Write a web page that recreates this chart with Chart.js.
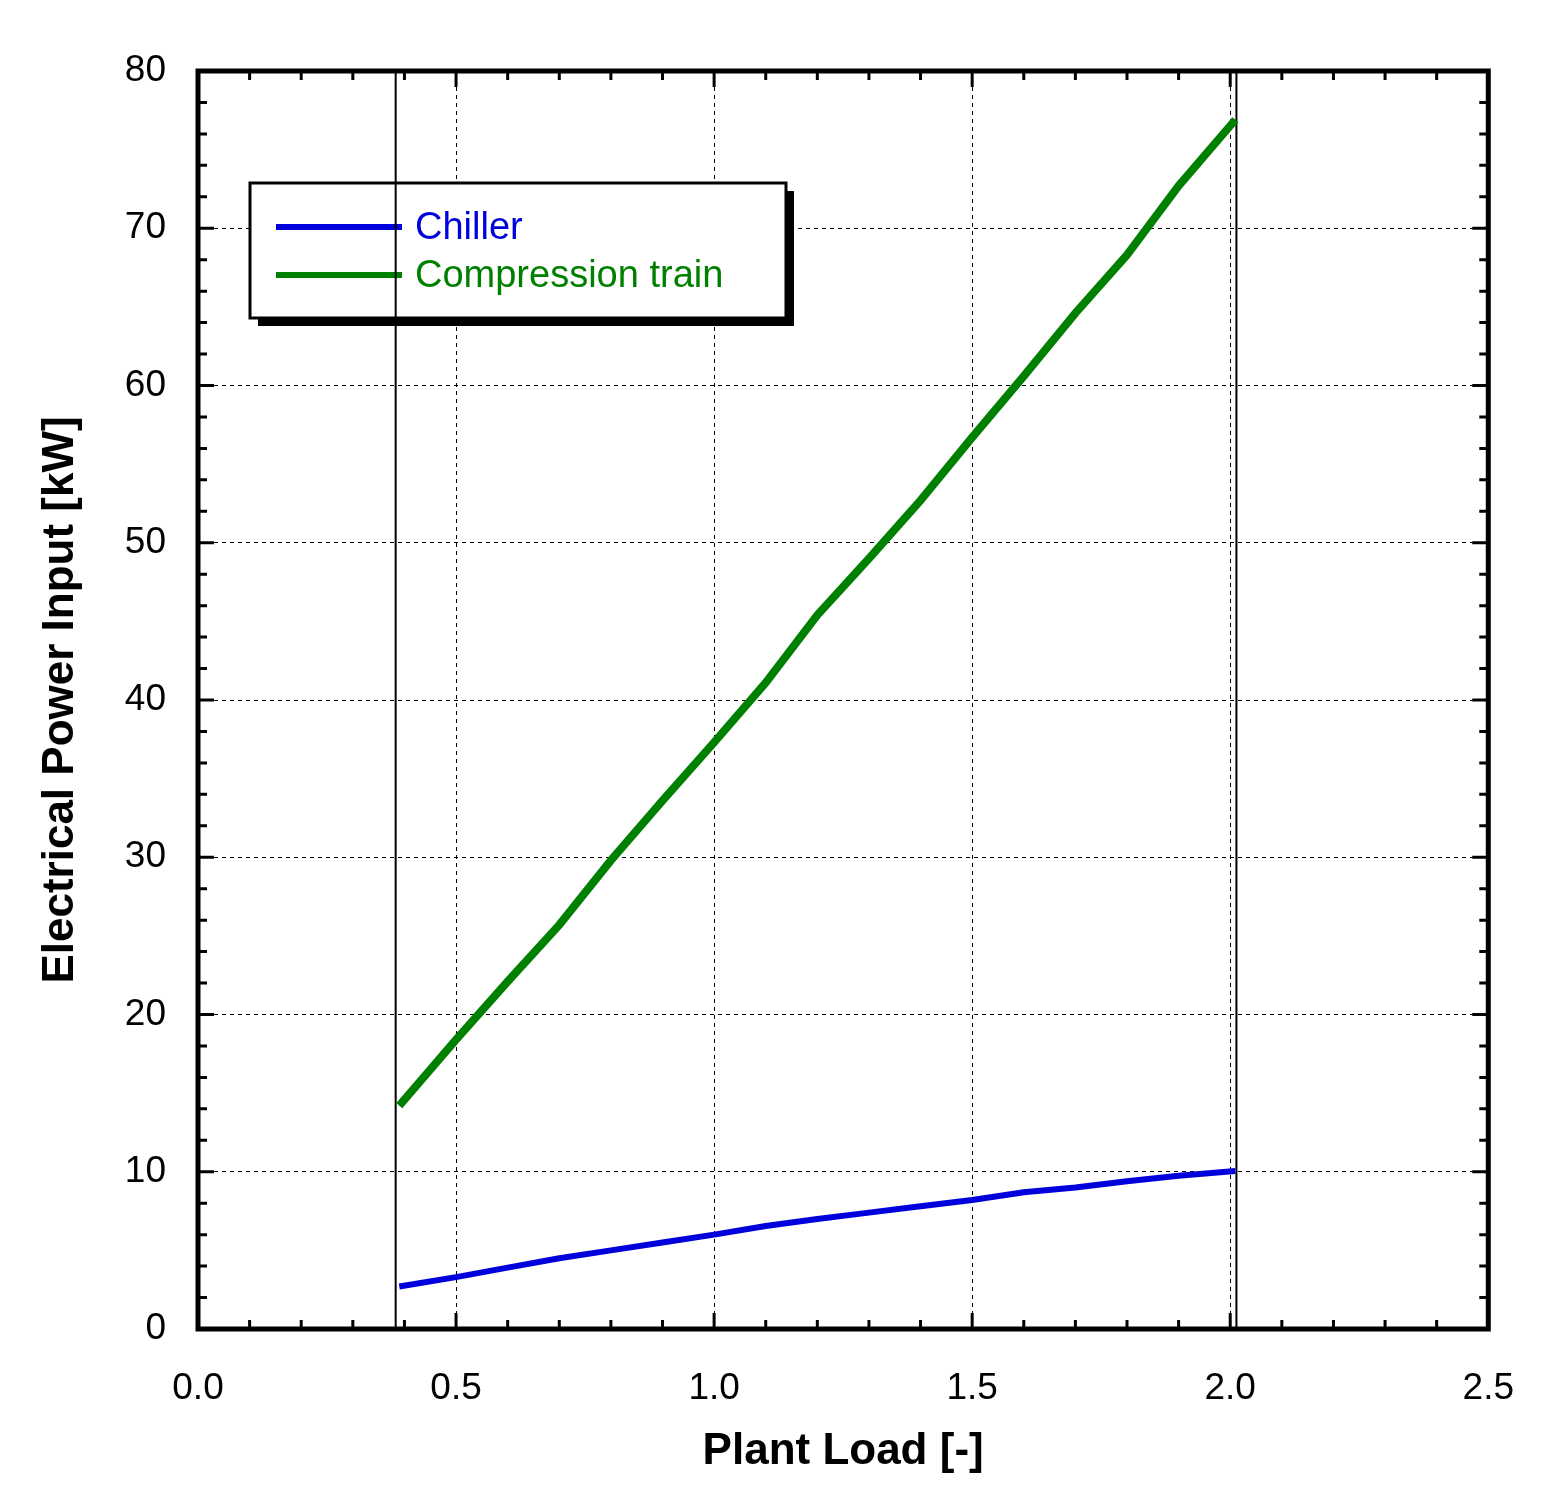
<!DOCTYPE html>
<html><head><meta charset="utf-8">
<script src="https://cdn.jsdelivr.net/npm/chart.js@4/dist/chart.umd.min.js"></script>
<style>html,body{margin:0;padding:0;background:#fff}#w{width:1552px;height:1512px}</style>
</head><body><div id="w"><canvas id="c"></canvas></div>
<script>
const chillerX = [0.39,0.5,0.6,0.7,0.8,0.9,1.0,1.1,1.2,1.3,1.4,1.5,1.6,1.7,1.8,1.9,2.01];
const chillerY = [2.7,3.3,3.9,4.5,5.0,5.5,6.0,6.55,7.0,7.4,7.8,8.2,8.7,9.0,9.4,9.75,10.05];
const compX = [0.39,0.5,0.6,0.7,0.8,0.9,1.0,1.1,1.2,1.3,1.4,1.5,1.6,1.7,1.8,1.9,2.01];
const compY = [14.2,18.4,22.1,25.7,29.8,33.6,37.3,41.1,45.4,49.0,52.7,56.7,60.6,64.6,68.3,72.7,76.9];
const limitLines = [0.383, 2.012];
const seriesNames = ['Chiller','Compression train'];
const seriesColors = ['#0000dd','#008000'];
const FONT = 'Liberation Sans, Arial, sans-serif';

function pts(xs, ys){ return xs.map((x,i)=>({x:x,y:ys[i]})); }

const deco = {
  id:'deco',
  beforeDatasetsDraw(ch){
    const {ctx, chartArea:a, scales:{x}} = ch;
    ctx.save();
    ctx.strokeStyle='#000'; ctx.lineWidth=2;
    limitLines.forEach(v=>{const px=x.getPixelForValue(v);ctx.beginPath();ctx.moveTo(px,a.top);ctx.lineTo(px,a.bottom);ctx.stroke();});
    ctx.restore();
  },
  afterDatasetsDraw(ch){
    const {ctx, chartArea:a, scales:{x,y}} = ch;
    ctx.save();
    ctx.strokeStyle='#000'; ctx.lineWidth=3;
    for(let i=0;i<=25;i++){const v=i/10;const px=x.getPixelForValue(v);const L=(i%5===0)?16:9;
      ctx.beginPath();ctx.moveTo(px,a.bottom);ctx.lineTo(px,a.bottom-L);ctx.moveTo(px,a.top);ctx.lineTo(px,a.top+L);ctx.stroke();}
    for(let v=0;v<=80;v+=2){const py=y.getPixelForValue(v);const L=(v%10===0)?16:9;
      ctx.beginPath();ctx.moveTo(a.left,py);ctx.lineTo(a.left+L,py);ctx.moveTo(a.right,py);ctx.lineTo(a.right-L,py);ctx.stroke();}
    ctx.lineWidth=5; ctx.strokeRect(a.left,a.top,a.right-a.left,a.bottom-a.top);
    const lx=250,ly=183,lw=536,lh=135;
    ctx.fillStyle='#000'; ctx.fillRect(lx+8,ly+8,lw,lh);
    ctx.fillStyle='#fff'; ctx.fillRect(lx,ly,lw,lh);
    ctx.lineWidth=3; ctx.strokeRect(lx,ly,lw,lh);
    ctx.font='38px '+FONT; ctx.textBaseline='middle';
    [227,275].forEach((yy,i)=>{
      ctx.strokeStyle=seriesColors[i]; ctx.lineWidth=6;
      ctx.beginPath();ctx.moveTo(276,yy);ctx.lineTo(402,yy);ctx.stroke();
      ctx.fillStyle=seriesColors[i]; ctx.fillText(seriesNames[i],415,yy+2);
    });
    ctx.strokeStyle='#000'; ctx.lineWidth=2;
    const px=x.getPixelForValue(limitLines[0]);
    ctx.beginPath();ctx.moveTo(px,ly);ctx.lineTo(px,ly+lh);ctx.stroke();
    ctx.restore();
  }
};

new Chart(document.getElementById('c'),{
  type:'line',
  data:{datasets:[
    {label:seriesNames[0],data:pts(chillerX,chillerY),borderColor:seriesColors[0],borderWidth:6,pointRadius:0,fill:false},
    {label:seriesNames[1],data:pts(compX,compY),borderColor:seriesColors[1],borderWidth:8,pointRadius:0,fill:false}
  ]},
  options:{
    responsive:true,maintainAspectRatio:false,animation:false,
    layout:{padding:{left:30,top:71,right:62,bottom:30}},
    plugins:{legend:{display:false},tooltip:{enabled:false}},
    scales:{
      x:{type:'linear',min:0,max:2.5,
        afterFit(s){s.height=153;},
        border:{display:false,dash:[4,4]},
        grid:{color:'#000',lineWidth:1,drawTicks:false},
        ticks:{stepSize:0.5,padding:38,color:'#000',font:{family:FONT,size:37},callback:v=>v.toFixed(1)},
        title:{display:true,text:'Plant Load [-]',color:'#000',font:{family:FONT,size:44,weight:'bold'},padding:{top:0}}
      },
      y:{type:'linear',min:0,max:80,
        afterFit(s){s.width=168;},
        border:{display:false,dash:[4,4]},
        grid:{color:'#000',lineWidth:1,drawTicks:false},
        ticks:{stepSize:10,padding:32,color:'#000',font:{family:FONT,size:37}},
        title:{display:true,text:'Electrical Power Input [kW]',color:'#000',font:{family:FONT,size:44,weight:'bold'},padding:{bottom:0}}
      }
    }
  },
  plugins:[deco]
});
</script></body></html>
